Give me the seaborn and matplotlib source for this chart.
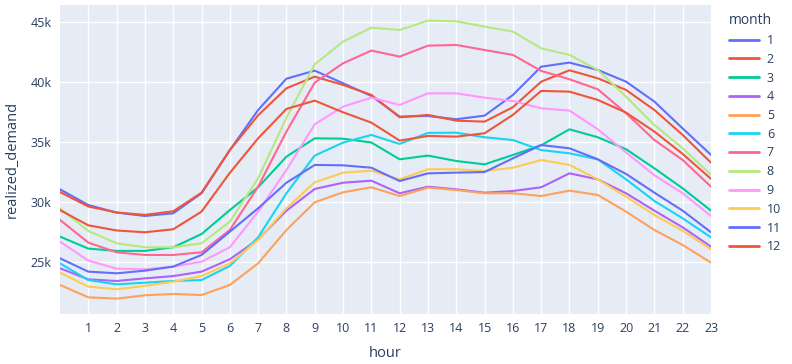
import pandas as pd
import matplotlib
matplotlib.use('Agg')
import matplotlib.pyplot as plt
from matplotlib.ticker import FuncFormatter
import seaborn as sns

hours = list(range(24))
months = list(range(1, 13))

# realized demand per hour, in thousands
m1 = [31.03, 29.72, 29.09, 28.81, 29.03, 30.7, 34.3, 37.64, 40.25, 40.92, 39.87, 38.81,
      37.09, 37.14, 36.87, 37.17, 38.89, 41.25, 41.59, 40.98, 40.0, 38.34, 36.1, 33.9]
m2 = [30.8, 29.6, 29.1, 28.9, 29.2, 30.75, 34.3, 37.2, 39.45, 40.42, 39.73, 38.9,
      37.03, 37.23, 36.75, 36.67, 37.87, 40.0, 40.95, 40.28, 39.31, 37.64, 35.56, 33.25]
m3 = [27.09, 26.09, 25.9, 25.9, 26.2, 27.3, 29.3, 31.2, 33.75, 35.28, 35.25, 34.93,
      33.53, 33.84, 33.39, 33.11, 33.89, 34.7, 36.03, 35.37, 34.37, 32.78, 31.11, 29.25]
m4 = [24.45, 23.53, 23.39, 23.61, 23.8, 24.17, 25.2, 26.86, 29.25, 31.06, 31.58, 31.75,
      30.7, 31.25, 31.03, 30.75, 30.89, 31.2, 32.36, 31.86, 30.7, 29.25, 27.86, 26.25]
m5 = [23.06, 22.03, 21.92, 22.2, 22.31, 22.22, 23.06, 24.86, 27.64, 29.95, 30.78, 31.2,
      30.47, 31.17, 30.97, 30.7, 30.7, 30.47, 30.92, 30.56, 29.17, 27.64, 26.39, 24.92]
m6 = [24.86, 23.47, 23.11, 23.25, 23.39, 23.47, 24.64, 27.03, 30.7, 33.84, 34.92, 35.56,
      34.81, 35.73, 35.75, 35.37, 35.14, 34.3, 34.03, 33.53, 31.86, 30.06, 28.61, 27.03]
m7 = [28.48, 26.59, 25.78, 25.56, 25.56, 25.78, 27.64, 31.25, 35.84, 39.92, 41.53, 42.59,
      42.09, 43.0, 43.06, 42.64, 42.23, 40.9, 40.2, 39.37, 37.37, 35.14, 33.47, 31.25]
m8 = [29.45, 27.56, 26.53, 26.2, 26.2, 26.53, 28.33, 31.95, 37.0, 41.45, 43.34, 44.5,
      44.31, 45.09, 45.03, 44.59, 44.17, 42.78, 42.23, 40.98, 38.75, 36.39, 34.45, 32.25]
m9 = [26.67, 25.09, 24.42, 24.37, 24.59, 25.0, 26.2, 29.17, 32.64, 36.45, 37.92, 38.67,
      38.06, 39.03, 39.03, 38.67, 38.39, 37.78, 37.59, 36.03, 34.1, 32.2, 30.7, 28.81]
m10 = [24.09, 22.92, 22.7, 22.98, 23.34, 23.8, 24.86, 26.81, 29.45, 31.61, 32.42, 32.58,
       31.86, 32.7, 32.7, 32.56, 32.83, 33.47, 33.06, 31.86, 30.42, 28.89, 27.58, 26.03]
m11 = [25.28, 24.17, 24.03, 24.25, 24.59, 25.56, 27.5, 29.45, 31.58, 33.06, 33.03, 32.83,
       31.72, 32.36, 32.42, 32.47, 33.61, 34.72, 34.45, 33.53, 32.31, 30.75, 29.25, 27.45]
m12 = [29.3, 28.03, 27.6, 27.45, 27.7, 29.17, 32.4, 35.28, 37.73, 38.42, 37.45, 36.59,
       35.09, 35.48, 35.42, 35.7, 37.23, 39.23, 39.17, 38.48, 37.42, 35.84, 33.98, 31.9]

series = [m1, m2, m3, m4, m5, m6, m7, m8, m9, m10, m11, m12]
colors = ['#636EFA', '#EF553B', '#00CC96', '#AB63FA', '#FFA15A', '#19D3F3',
          '#FF6692', '#B6E880', '#FF97FF', '#FECB52', '#636EFA', '#EF553B']

rows = []
for m, vals in zip(months, series):
    for h, v in zip(hours, vals):
        rows.append({'hour': h, 'realized_demand': v * 1000, 'month': m})
df = pd.DataFrame(rows)

sns.set_style('darkgrid', {'axes.facecolor': '#E5ECF6', 'grid.color': 'white'})
plt.rcParams['font.family'] = ['Open Sans', 'DejaVu Sans']
text_color = '#2a3f5f'

fig = plt.figure(figsize=(7.92, 3.64), dpi=100)
ax = fig.add_axes([60 / 792, 50 / 364, 651 / 792, 309 / 364])

palette = dict(zip(months, colors))
sns.lineplot(data=df, x='hour', y='realized_demand', hue='month', palette=palette,
             linewidth=1.5, ax=ax, legend=False)

ax.set_xlim(0, 23)
ax.set_ylim(20640, 46390)
ax.set_xticks(range(1, 24))
ax.set_yticks([25000, 30000, 35000, 40000, 45000])
ax.yaxis.set_major_formatter(FuncFormatter(lambda v, p: f'{int(v / 1000)}k'))
ax.grid(True, color='white', linewidth=1)
for s in ax.spines.values():
    s.set_visible(False)
ax.tick_params(axis='both', colors=text_color, labelsize=9, length=0, pad=6)
ax.set_xlabel('hour', color=text_color, fontsize=10.5, labelpad=8)
ax.set_ylabel('realized_demand', color=text_color, fontsize=10.5, labelpad=8)

handles = [plt.Line2D([], [], color=c, linewidth=2) for c in colors]
leg = fig.legend(handles, [str(m) for m in months], title='month',
                 loc='upper left', bbox_to_anchor=(718 / 792, 1 - 2 / 364),
                 frameon=False, fontsize=9, title_fontsize=10,
                 handlelength=2.4, handletextpad=0.6, labelspacing=0.46,
                 alignment='left')
for t in leg.get_texts():
    t.set_color(text_color)
leg.get_title().set_color(text_color)

fig.savefig('out.png', dpi=100)
